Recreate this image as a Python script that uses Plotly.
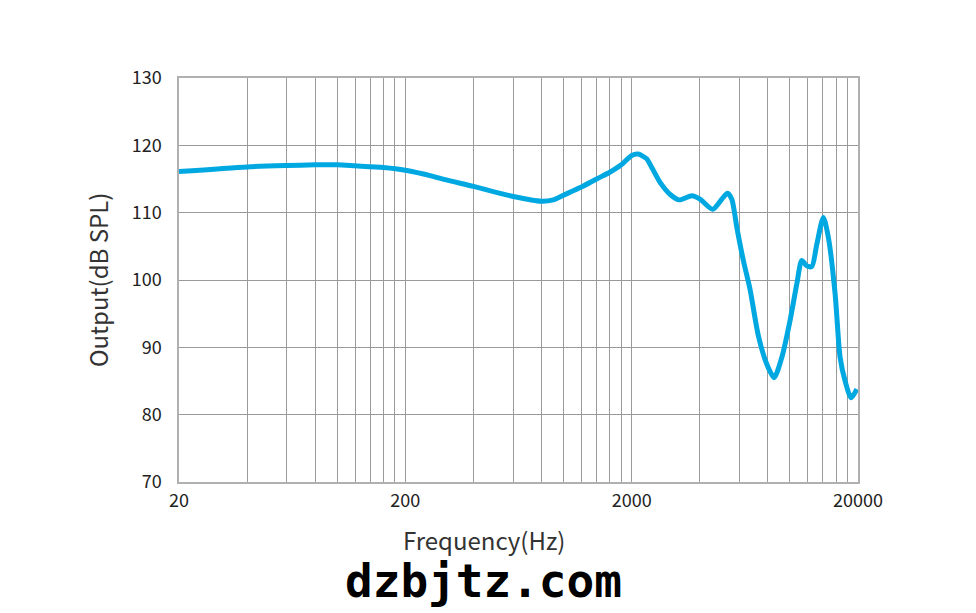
import plotly.graph_objects as go

# Frequency response
freq_hz = [20, 40, 60, 80, 100, 120, 160, 200, 265, 300, 400, 600, 800, 900, 1000,
           1200, 1400, 1600, 1800, 2000, 2140, 2330, 2410, 2670, 2960, 3250,
           3690, 4010, 4560, 5000, 5300, 5540, 5830, 6230, 6670, 7260, 7910,
           8520, 9210, 10020, 10730, 11290, 11880, 12500, 13150, 14060, 14800,
           15850, 16670, 17540, 18650, 19760]
output_db = [116.1, 116.8, 117.0, 117.1, 117.1, 116.95, 116.7, 116.3, 115.4, 114.9,
             113.9, 112.4, 111.7, 111.9, 112.6, 113.8, 115.0, 116.0, 117.1,
             118.5, 118.7, 118.0, 117.2, 114.5, 112.7, 111.9, 112.5, 112.0,
             110.5, 112.0, 112.9, 112.0, 107.8, 102.9, 98.6, 91.7, 87.5, 85.5,
             88.5, 94.0, 99.4, 102.9, 102.1, 102.0, 105.3, 109.3, 106.3, 97.9,
             88.5, 85.0, 82.5, 83.8]

# Axis grid / tick labels
x_grid_vals = [20, 40, 60, 80, 100, 120, 140, 160, 180, 200,
               400, 600, 800, 1000, 1200, 1400, 1600, 1800, 2000,
               4000, 6000, 8000, 10000, 12000, 14000, 16000, 18000, 20000]
x_labelled = {20: "20", 200: "200", 2000: "2000", 20000: "20000"}
x_tick_text = [x_labelled.get(v, "") for v in x_grid_vals]
y_tick_vals = [70, 80, 90, 100, 110, 120, 130]

fig = go.Figure()
fig.add_trace(go.Scatter(
    x=freq_hz, y=output_db, mode="lines",
    line=dict(color="#00a8e1", width=5, shape="spline", smoothing=0.7),
    hoverinfo="x+y", showlegend=False))

font_family = "Noto Sans CJK SC, Noto Sans, sans-serif"
fig.update_layout(
    width=968, height=605,
    margin=dict(l=171, r=118, t=70, b=131),
    paper_bgcolor="white", plot_bgcolor="white",
    font=dict(family=font_family, color="#222222", size=18),
)
fig.update_xaxes(
    type="log", range=[1.30103, 4.30103],
    tickvals=x_grid_vals, ticktext=x_tick_text,
    showgrid=True, gridcolor="#9a9a9a", gridwidth=1,
    showline=True, linecolor="#b0b0b0", linewidth=1.5, mirror=True,
    ticks="", ticklabelstandoff=2, zeroline=False,
    tickfont=dict(size=18, color="#222222"),
)
fig.update_yaxes(
    range=[70, 130], tickvals=y_tick_vals,
    showgrid=True, gridcolor="#9a9a9a", gridwidth=1,
    showline=True, linecolor="#b0b0b0", linewidth=1.5, mirror=True,
    ticks="", ticklabelstandoff=12, zeroline=False,
    tickfont=dict(size=18, color="#222222"),
    title=dict(text="Output(dB SPL)", font=dict(size=24, color="#333333"), standoff=16),
)
fig.add_annotation(
    text="Frequency(Hz)", xref="paper", yref="paper",
    x=0.449, y=-0.1425, xanchor="center", yanchor="middle", showarrow=False,
    font=dict(family=font_family, size=24, color="#333333"))
fig.add_annotation(
    text="<b>dzbjtz.com</b>", xref="paper", yref="paper",
    x=0.449, y=-0.245, xanchor="center", yanchor="middle", showarrow=False,
    font=dict(family="DejaVu Sans Mono, Liberation Mono, monospace", size=46, color="#000000"))

fig.write_html("out.html")
